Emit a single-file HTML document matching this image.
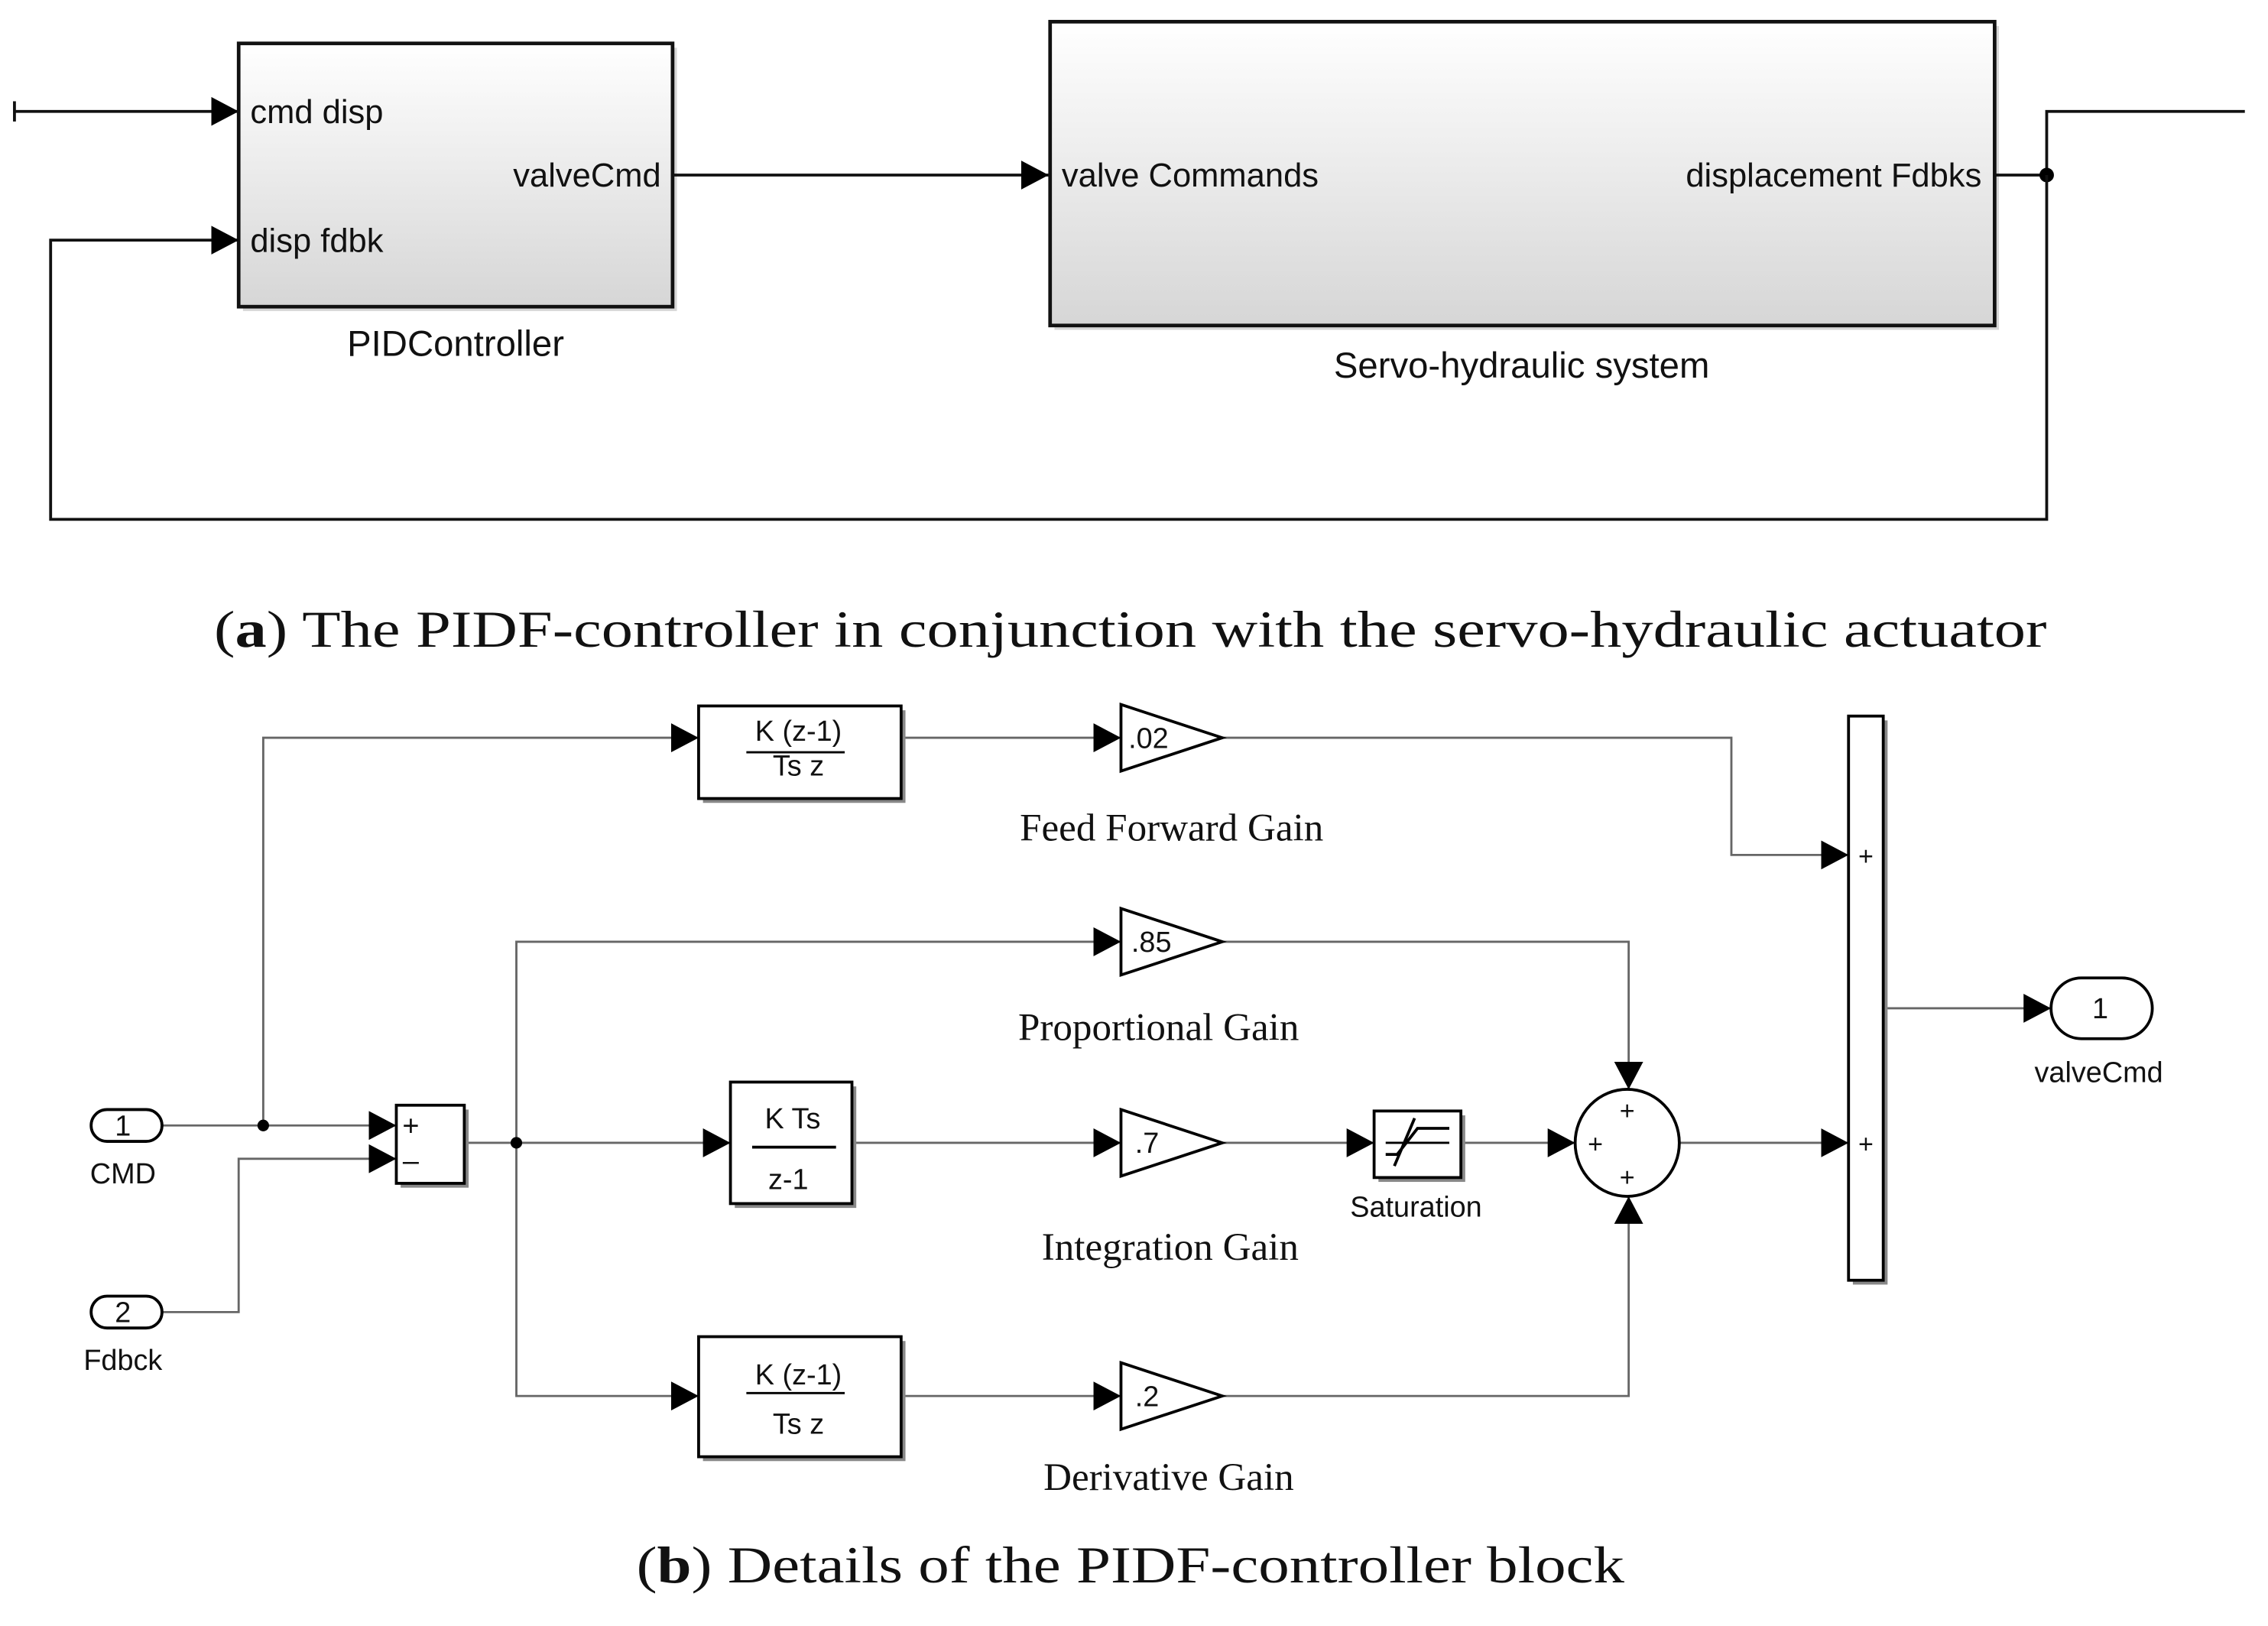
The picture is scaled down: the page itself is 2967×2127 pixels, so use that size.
<!DOCTYPE html>
<html><head><style>html,body{margin:0;padding:0;background:#fff}svg{display:block}</style></head>
<body>
<svg width="2967" height="2127" viewBox="0 0 1568 1124" preserveAspectRatio="none" xmlns="http://www.w3.org/2000/svg">
<defs>
<linearGradient id="g" x1="0" y1="0" x2="0" y2="1"><stop offset="0" stop-color="#ffffff"/><stop offset="1" stop-color="#d6d6d6"/></linearGradient>
<marker id="a" markerWidth="20" markerHeight="20" refX="19" refY="10" orient="auto" markerUnits="userSpaceOnUse"><path d="M0,0 L19,10 L0,20 Z" fill="#000"/></marker>
</defs>
<g font-family="Liberation Sans, Arial, sans-serif" fill="none" stroke="#111">
<!-- (a) -->
<line x1="10" y1="70" x2="10" y2="84" stroke-width="2"/>
<line x1="10" y1="77" x2="165" y2="77" stroke-width="2" marker-end="url(#a)"/>
<rect x="168" y="33" width="300" height="182" fill="#bbb" stroke="none" opacity="0.6"/>
<rect x="165" y="30" width="300" height="182" fill="url(#g)" stroke-width="2.5"/>
<line x1="465" y1="121" x2="725" y2="121" stroke-width="2" marker-end="url(#a)"/>
<rect x="729" y="18" width="653" height="210" fill="#bbb" stroke="none" opacity="0.6"/>
<rect x="726" y="15" width="653" height="210" fill="url(#g)" stroke-width="2.5"/>
<polyline points="1379,121 1415,121 1415,77 1552,77" stroke-width="2"/>
<circle cx="1415" cy="121" r="5" fill="#000" stroke="none"/>
<polyline points="1415,121 1415,359 35,359 35,166 165,166" stroke-width="2" marker-end="url(#a)"/>
<g fill="#111" stroke="none" font-size="23">
<text x="173" y="85">cmd disp</text>
<text x="173" y="174">disp fdbk</text>
<text x="457" y="129" text-anchor="end">valveCmd</text>
<text x="315" y="246" text-anchor="middle" font-size="25">PIDController</text>
<text x="734" y="129">valve Commands</text>
<text x="1370" y="129" text-anchor="end">displacement Fdbks</text>
<text x="1052" y="261" text-anchor="middle" font-size="25">Servo-hydraulic system</text>
<text x="148" y="447" font-family="Liberation Serif, serif" font-size="36" textLength="1267" lengthAdjust="spacingAndGlyphs">(<tspan font-weight="bold">a</tspan>) The PIDF-controller in conjunction with the servo-hydraulic actuator</text>
<text x="440" y="1094" font-family="Liberation Serif, serif" font-size="36" textLength="683" lengthAdjust="spacingAndGlyphs">(<tspan font-weight="bold">b</tspan>) Details of the PIDF-controller block</text>
</g>
<!-- (b) connectors -->
<g stroke="#666" stroke-width="1.5">
<line x1="112" y1="778" x2="274" y2="778" marker-end="url(#a)"/>
<polyline points="182,778 182,510 483,510" marker-end="url(#a)"/>
<polyline points="112,907 165,907 165,801 274,801" marker-end="url(#a)"/>
<line x1="321" y1="790" x2="505" y2="790" marker-end="url(#a)"/>
<polyline points="357,790 357,651 775,651" marker-end="url(#a)"/>
<polyline points="357,790 357,965 483,965" marker-end="url(#a)"/>
<line x1="623" y1="510" x2="775" y2="510" marker-end="url(#a)"/>
<polyline points="845,510 1197,510 1197,591 1278,591" marker-end="url(#a)"/>
<polyline points="845,651 1126,651 1126,753" marker-end="url(#a)"/>
<line x1="589" y1="790" x2="775" y2="790" marker-end="url(#a)"/>
<line x1="845" y1="790" x2="950" y2="790" marker-end="url(#a)"/>
<line x1="1010" y1="790" x2="1089" y2="790" marker-end="url(#a)"/>
<line x1="1161" y1="790" x2="1278" y2="790" marker-end="url(#a)"/>
<line x1="623" y1="965" x2="775" y2="965" marker-end="url(#a)"/>
<polyline points="845,965 1126,965 1126,827" marker-end="url(#a)"/>
<line x1="1302" y1="697" x2="1418" y2="697" marker-end="url(#a)"/>
</g>
<circle cx="182" cy="778" r="4" fill="#000" stroke="none"/>
<circle cx="357" cy="790" r="4" fill="#000" stroke="none"/>
<!-- blocks (b) -->
<g stroke="#000" stroke-width="2" fill="#fff">
<rect x="486" y="491" width="140" height="64" fill="#888" stroke="none"/>
<rect x="483" y="488" width="140" height="64"/>
<rect x="486" y="927" width="140" height="83" fill="#888" stroke="none"/>
<rect x="483" y="924" width="140" height="83"/>
<rect x="508" y="751" width="84" height="84" fill="#888" stroke="none"/>
<rect x="505" y="748" width="84" height="84"/>
<rect x="277" y="767" width="47" height="54" fill="#888" stroke="none"/>
<rect x="274" y="764" width="47" height="54"/>
<rect x="953" y="771" width="60" height="46" fill="#888" stroke="none"/>
<rect x="950" y="768" width="60" height="46"/>
<rect x="1281" y="498" width="24" height="390" fill="#888" stroke="none"/>
<rect x="1278" y="495" width="24" height="390"/>
<polygon points="775,487 845,510 775,533"/>
<polygon points="775,628 845,651 775,674"/>
<polygon points="775,767 845,790 775,813"/>
<polygon points="775,942 845,965 775,988"/>
<ellipse cx="1125" cy="790" rx="36" ry="37"/>
<rect x="63" y="767" width="49" height="22" rx="11"/>
<rect x="63" y="896" width="49" height="22" rx="11"/>
<rect x="1418" y="676" width="70" height="42" rx="21"/>
<line x1="520" y1="793" x2="578" y2="793"/>
<line x1="516" y1="520" x2="584" y2="520" stroke-width="1.5"/>
<line x1="516" y1="963" x2="584" y2="963" stroke-width="1.5"/>
<path d="M958,798 H966 L980,780 H1002 M964,806 L978,773" fill="none" stroke-width="2"/>
<line x1="958" y1="790" x2="1002" y2="790" stroke-width="1.5"/>
</g>
<g fill="#111" stroke="none" font-size="20">
<text x="552" y="512" text-anchor="middle">K (z-1)</text>
<text x="552" y="536" text-anchor="middle">Ts z</text>
<text x="552" y="957" text-anchor="middle">K (z-1)</text>
<text x="552" y="991" text-anchor="middle">Ts z</text>
<text x="548" y="780" text-anchor="middle">K Ts</text>
<text x="545" y="822" text-anchor="middle">z-1</text>
<text x="794" y="517" text-anchor="middle">.02</text>
<text x="796" y="658" text-anchor="middle">.85</text>
<text x="793" y="797" text-anchor="middle">.7</text>
<text x="793" y="972" text-anchor="middle">.2</text>
<text x="284" y="785" text-anchor="middle">+</text>
<text x="284" y="809" text-anchor="middle">–</text>
<text x="1125" y="774" text-anchor="middle" font-size="18">+</text>
<text x="1103" y="797" text-anchor="middle" font-size="18">+</text>
<text x="1125" y="820" text-anchor="middle" font-size="18">+</text>
<text x="1290" y="598" text-anchor="middle" font-size="18">+</text>
<text x="1290" y="797" text-anchor="middle" font-size="18">+</text>
<text x="85" y="785" text-anchor="middle">1</text>
<text x="85" y="914" text-anchor="middle">2</text>
<text x="1452" y="704" text-anchor="middle">1</text>
<text x="85" y="818" text-anchor="middle">CMD</text>
<text x="85" y="947" text-anchor="middle">Fdbck</text>
<text x="1451" y="748" text-anchor="middle">valveCmd</text>
<text x="979" y="841" text-anchor="middle">Saturation</text>
<g font-family="Liberation Serif, serif" font-size="27">
<text x="810" y="581" text-anchor="middle">Feed Forward Gain</text>
<text x="801" y="719" text-anchor="middle">Proportional Gain</text>
<text x="809" y="871" text-anchor="middle">Integration Gain</text>
<text x="808" y="1030" text-anchor="middle">Derivative Gain</text>
</g>
</g>
</g>
</svg>
</body></html>
